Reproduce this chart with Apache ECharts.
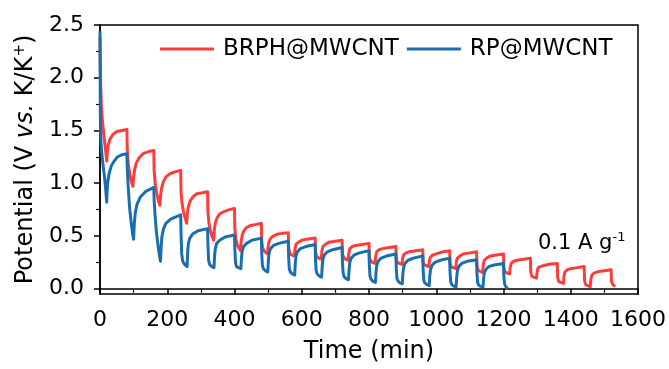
<!DOCTYPE html>
<html><head><meta charset="utf-8">
<script src="https://cdn.jsdelivr.net/npm/echarts@6/dist/echarts.min.js"></script>
<style>html,body{margin:0;padding:0;background:#fff}#c{width:669px;height:369px}</style>
</head><body><div id="c"></div>
<script>
const seriesNames = ['BRPH@MWCNT', 'RP@MWCNT'];
const seriesColors = ['#ff3c3c', '#1a6eb0'];

// [time (min), potential (V)]
const brphData = [
[0,2.38],[1,2.15],[2,1.92],[4,1.74],[7,1.60],[11,1.47],[15,1.36],[19,1.24],[20,1.21],
[22,1.30],[25,1.37],[30,1.42],[38,1.46],[50,1.49],[65,1.50],[80,1.51],
[81,1.32],[84,1.19],[89,1.08],[94,1.01],[98,0.97],
[100,1.06],[103,1.13],[108,1.19],[116,1.24],[128,1.28],[145,1.30],[160,1.31],
[161,1.12],[164,1.00],[169,0.90],[174,0.83],[178,0.79],
[180,0.88],[183,0.95],[188,1.01],[196,1.06],[208,1.09],[225,1.11],[240,1.12],
[241,0.92],[244,0.81],[249,0.72],[254,0.66],[258,0.62],
[260,0.72],[263,0.78],[268,0.83],[276,0.87],[288,0.90],[305,0.91],[320,0.92],
[321,0.73],[324,0.62],[329,0.54],[334,0.49],[338,0.46],
[340,0.56],[343,0.62],[348,0.67],[356,0.71],[368,0.73],[385,0.75],[400,0.76],
[401,0.57],[404,0.47],[409,0.41],[414,0.38],[418,0.36],
[420,0.45],[423,0.51],[428,0.55],[436,0.58],[448,0.60],[465,0.61],[480,0.62],
[481,0.45],[484,0.38],[490,0.35],[498,0.33],
[500,0.40],[503,0.45],[508,0.48],[516,0.50],[530,0.52],[560,0.53],
[561,0.39],[564,0.34],[570,0.32],[578,0.31],
[580,0.38],[583,0.42],[590,0.44],[600,0.46],[615,0.47],[640,0.48],
[641,0.35],[644,0.31],[650,0.29],[658,0.28],
[660,0.36],[663,0.40],[670,0.42],[680,0.44],[700,0.45],[720,0.46],
[721,0.33],[724,0.30],[730,0.28],[738,0.27],
[740,0.34],[743,0.38],[750,0.40],[760,0.41],[780,0.42],[800,0.43],
[801,0.30],[804,0.27],[810,0.25],[818,0.24],
[820,0.31],[823,0.35],[830,0.37],[840,0.38],[860,0.39],[880,0.40],
[881,0.28],[884,0.25],[890,0.24],[898,0.23],
[900,0.29],[903,0.32],[910,0.34],[920,0.35],[940,0.36],[960,0.37],
[961,0.25],[964,0.23],[970,0.22],[978,0.21],
[980,0.27],[983,0.30],[990,0.32],[1000,0.33],[1020,0.35],[1040,0.36],
[1041,0.24],[1044,0.21],[1050,0.20],[1058,0.19],
[1060,0.26],[1063,0.29],[1070,0.31],[1080,0.33],[1100,0.34],[1120,0.35],
[1121,0.22],[1124,0.18],[1130,0.165],[1138,0.155],
[1140,0.23],[1143,0.27],[1150,0.29],[1160,0.31],[1180,0.32],[1200,0.33],
[1201,0.20],[1204,0.16],[1210,0.15],[1218,0.14],
[1220,0.20],[1223,0.24],[1230,0.26],[1240,0.27],[1260,0.28],[1280,0.29],
[1281,0.16],[1284,0.12],[1290,0.11],[1298,0.10],
[1300,0.16],[1303,0.20],[1310,0.21],[1320,0.22],[1340,0.235],[1360,0.24],
[1361,0.11],[1364,0.07],[1370,0.06],[1378,0.05],
[1380,0.12],[1383,0.16],[1390,0.18],[1400,0.19],[1420,0.20],[1440,0.21],
[1441,0.08],[1444,0.04],[1450,0.03],[1458,0.02],
[1460,0.09],[1463,0.13],[1470,0.15],[1480,0.16],[1500,0.17],[1520,0.18],
[1521,0.07],[1525,0.04],[1532,0.02]
];

const rpData = [
[0,2.44],[0.5,2.0],[1,1.65],[2,1.45],[5,1.30],[9,1.17],[13,1.07],[17,0.94],[20,0.82],
[21,0.92],[23,1.01],[27,1.09],[33,1.16],[40,1.20],[52,1.25],[65,1.27],[80,1.28],
[81,1.15],[84,0.96],[88,0.77],[93,0.62],[97,0.52],[100,0.47],
[102,0.62],[105,0.72],[110,0.80],[120,0.87],[135,0.92],[160,0.96],
[161,0.84],[164,0.68],[168,0.53],[173,0.40],[177,0.31],[180,0.26],
[182,0.40],[184,0.49],[189,0.57],[196,0.62],[210,0.66],[240,0.70],
[241,0.52],[243,0.33],[246,0.26],[252,0.23],[259,0.21],
[261,0.36],[263,0.43],[267,0.48],[276,0.52],[292,0.55],[320,0.57],
[321,0.42],[323,0.27],[326,0.23],[332,0.21],[339,0.20],
[341,0.32],[343,0.38],[347,0.43],[356,0.46],[372,0.49],[400,0.51],
[401,0.38],[403,0.25],[406,0.21],[412,0.20],[419,0.19],
[421,0.30],[423,0.36],[427,0.40],[436,0.43],[452,0.46],[480,0.48],
[481,0.33],[483,0.22],[486,0.19],[492,0.17],[499,0.16],
[501,0.28],[503,0.34],[507,0.38],[516,0.41],[532,0.43],[560,0.45],
[561,0.30],[563,0.19],[566,0.16],[572,0.14],[579,0.13],
[581,0.25],[583,0.31],[587,0.35],[596,0.38],[612,0.40],[640,0.42],
[641,0.27],[643,0.17],[646,0.14],[652,0.12],[659,0.11],
[661,0.22],[663,0.28],[667,0.32],[676,0.35],[692,0.37],[720,0.39],
[721,0.25],[723,0.15],[726,0.115],[732,0.095],[739,0.085],
[741,0.19],[743,0.25],[747,0.29],[756,0.32],[772,0.34],[800,0.36],
[801,0.22],[803,0.12],[806,0.09],[812,0.07],[819,0.06],
[821,0.16],[823,0.22],[827,0.26],[836,0.29],[852,0.31],[880,0.33],
[881,0.20],[883,0.10],[886,0.075],[892,0.055],[899,0.047],
[901,0.15],[903,0.20],[907,0.24],[916,0.27],[932,0.29],[960,0.31],
[961,0.18],[963,0.08],[966,0.055],[972,0.04],[979,0.03],
[981,0.13],[983,0.18],[987,0.22],[996,0.25],[1012,0.27],[1040,0.29],
[1041,0.16],[1043,0.065],[1046,0.04],[1052,0.025],[1059,0.016],
[1061,0.12],[1063,0.17],[1067,0.21],[1076,0.24],[1092,0.26],[1120,0.275],
[1121,0.15],[1123,0.06],[1126,0.035],[1132,0.022],[1139,0.015],
[1141,0.10],[1143,0.15],[1147,0.18],[1156,0.21],[1172,0.225],[1200,0.24],
[1201,0.12],[1203,0.05],[1206,0.025],[1210,0.01],[1212,0.0]
];

const yMajorTicks = [0, 0.5, 1.0, 1.5, 2.0, 2.5];
const yMinorTicks = [0.25, 0.75, 1.25, 1.75, 2.25];
const xMin = 0, xMax = 1600, xInterval = 200;
const yMin = -0.05, yMax = 2.5;

const FONT = 'DejaVu Sans';
const chart = echarts.init(document.getElementById('c'), null, {renderer: 'canvas'});

const option = {
  animation: false,
  backgroundColor: '#fff',
  grid: {left: 100, right: 31, top: 25, bottom: 75, show: true, borderColor: '#000', borderWidth: 1.5, containLabel: false},
  title: {
    text: '{a|0.1 A g}{s|-1}',
    left: 533, top: 226,
    textStyle: {
      fontWeight: 'normal',
      rich: {
        a: {fontFamily: FONT, fontSize: 21, fontWeight: 'normal', color: '#000', lineHeight: 26},
        s: {fontFamily: FONT, fontSize: 13, fontWeight: 'normal', color: '#000', verticalAlign: 'top', lineHeight: 14}
      }
    }
  },
  legend: {
    data: seriesNames.map(n => ({name: n, icon: 'rect'})),
    left: 155, top: 32,
    itemWidth: 54, itemHeight: 3, itemGap: 8,
    textStyle: {fontFamily: FONT, fontSize: 23, color: '#000', lineHeight: 24, padding: [0, 0, 0, 4]}
  },
  xAxis: {
    type: 'value', min: xMin, max: xMax, interval: xInterval,
    name: 'Time (min)', nameLocation: 'middle', nameGap: 46,
    nameTextStyle: {fontFamily: FONT, fontSize: 24, color: '#000'},
    axisLine: {show: true, lineStyle: {color: '#000', width: 1.5}},
    axisTick: {show: true, length: 6, lineStyle: {color: '#000', width: 1.5}},
    minorTick: {show: true, splitNumber: 2, length: 4, lineStyle: {color: '#000', width: 1.2}},
    axisLabel: {fontFamily: FONT, fontSize: 22, color: '#000', margin: 15, formatter: v => String(v)},
    splitLine: {show: false}
  },
  yAxis: [{
    type: 'value', min: yMin, max: yMax,
    name: '{a|Potential (V }{i|vs.}{a| K/K}{s|+}{a|)}', nameLocation: 'middle', nameGap: 59,
    nameTextStyle: {
      rich: {
        a: {fontFamily: FONT, fontSize: 24, color: '#000', lineHeight: 28},
        i: {fontFamily: FONT, fontSize: 24, fontStyle: 'italic', color: '#000', lineHeight: 28},
        s: {fontFamily: FONT, fontSize: 15, color: '#000', verticalAlign: 'top', lineHeight: 16}
      }
    },
    axisLine: {show: true, lineStyle: {color: '#000', width: 1.5}},
    axisTick: {show: true, length: 6, customValues: yMajorTicks, lineStyle: {color: '#000', width: 1.5}},
    axisLabel: {fontFamily: FONT, fontSize: 22, color: '#000', margin: 16, customValues: yMajorTicks,
      formatter: v => v.toFixed(1)},
    splitLine: {show: false}
  }, {
    type: 'value', min: yMin, max: yMax, position: 'left',
    axisLine: {show: false},
    axisTick: {show: true, length: 4, customValues: yMinorTicks, lineStyle: {color: '#000', width: 1.2}},
    axisLabel: {show: false},
    splitLine: {show: false}
  }],
  series: [{
    name: seriesNames[0], type: 'line', data: brphData, yAxisIndex: 0,
    symbol: 'none', showSymbol: false, color: seriesColors[0],
    lineStyle: {width: 3, color: seriesColors[0], join: 'round'}
  }, {
    name: seriesNames[1], type: 'line', data: rpData, yAxisIndex: 0,
    symbol: 'none', showSymbol: false, color: seriesColors[1],
    lineStyle: {width: 3, color: seriesColors[1], join: 'round'}
  }]
};
chart.setOption(option);
</script>
</body></html>
